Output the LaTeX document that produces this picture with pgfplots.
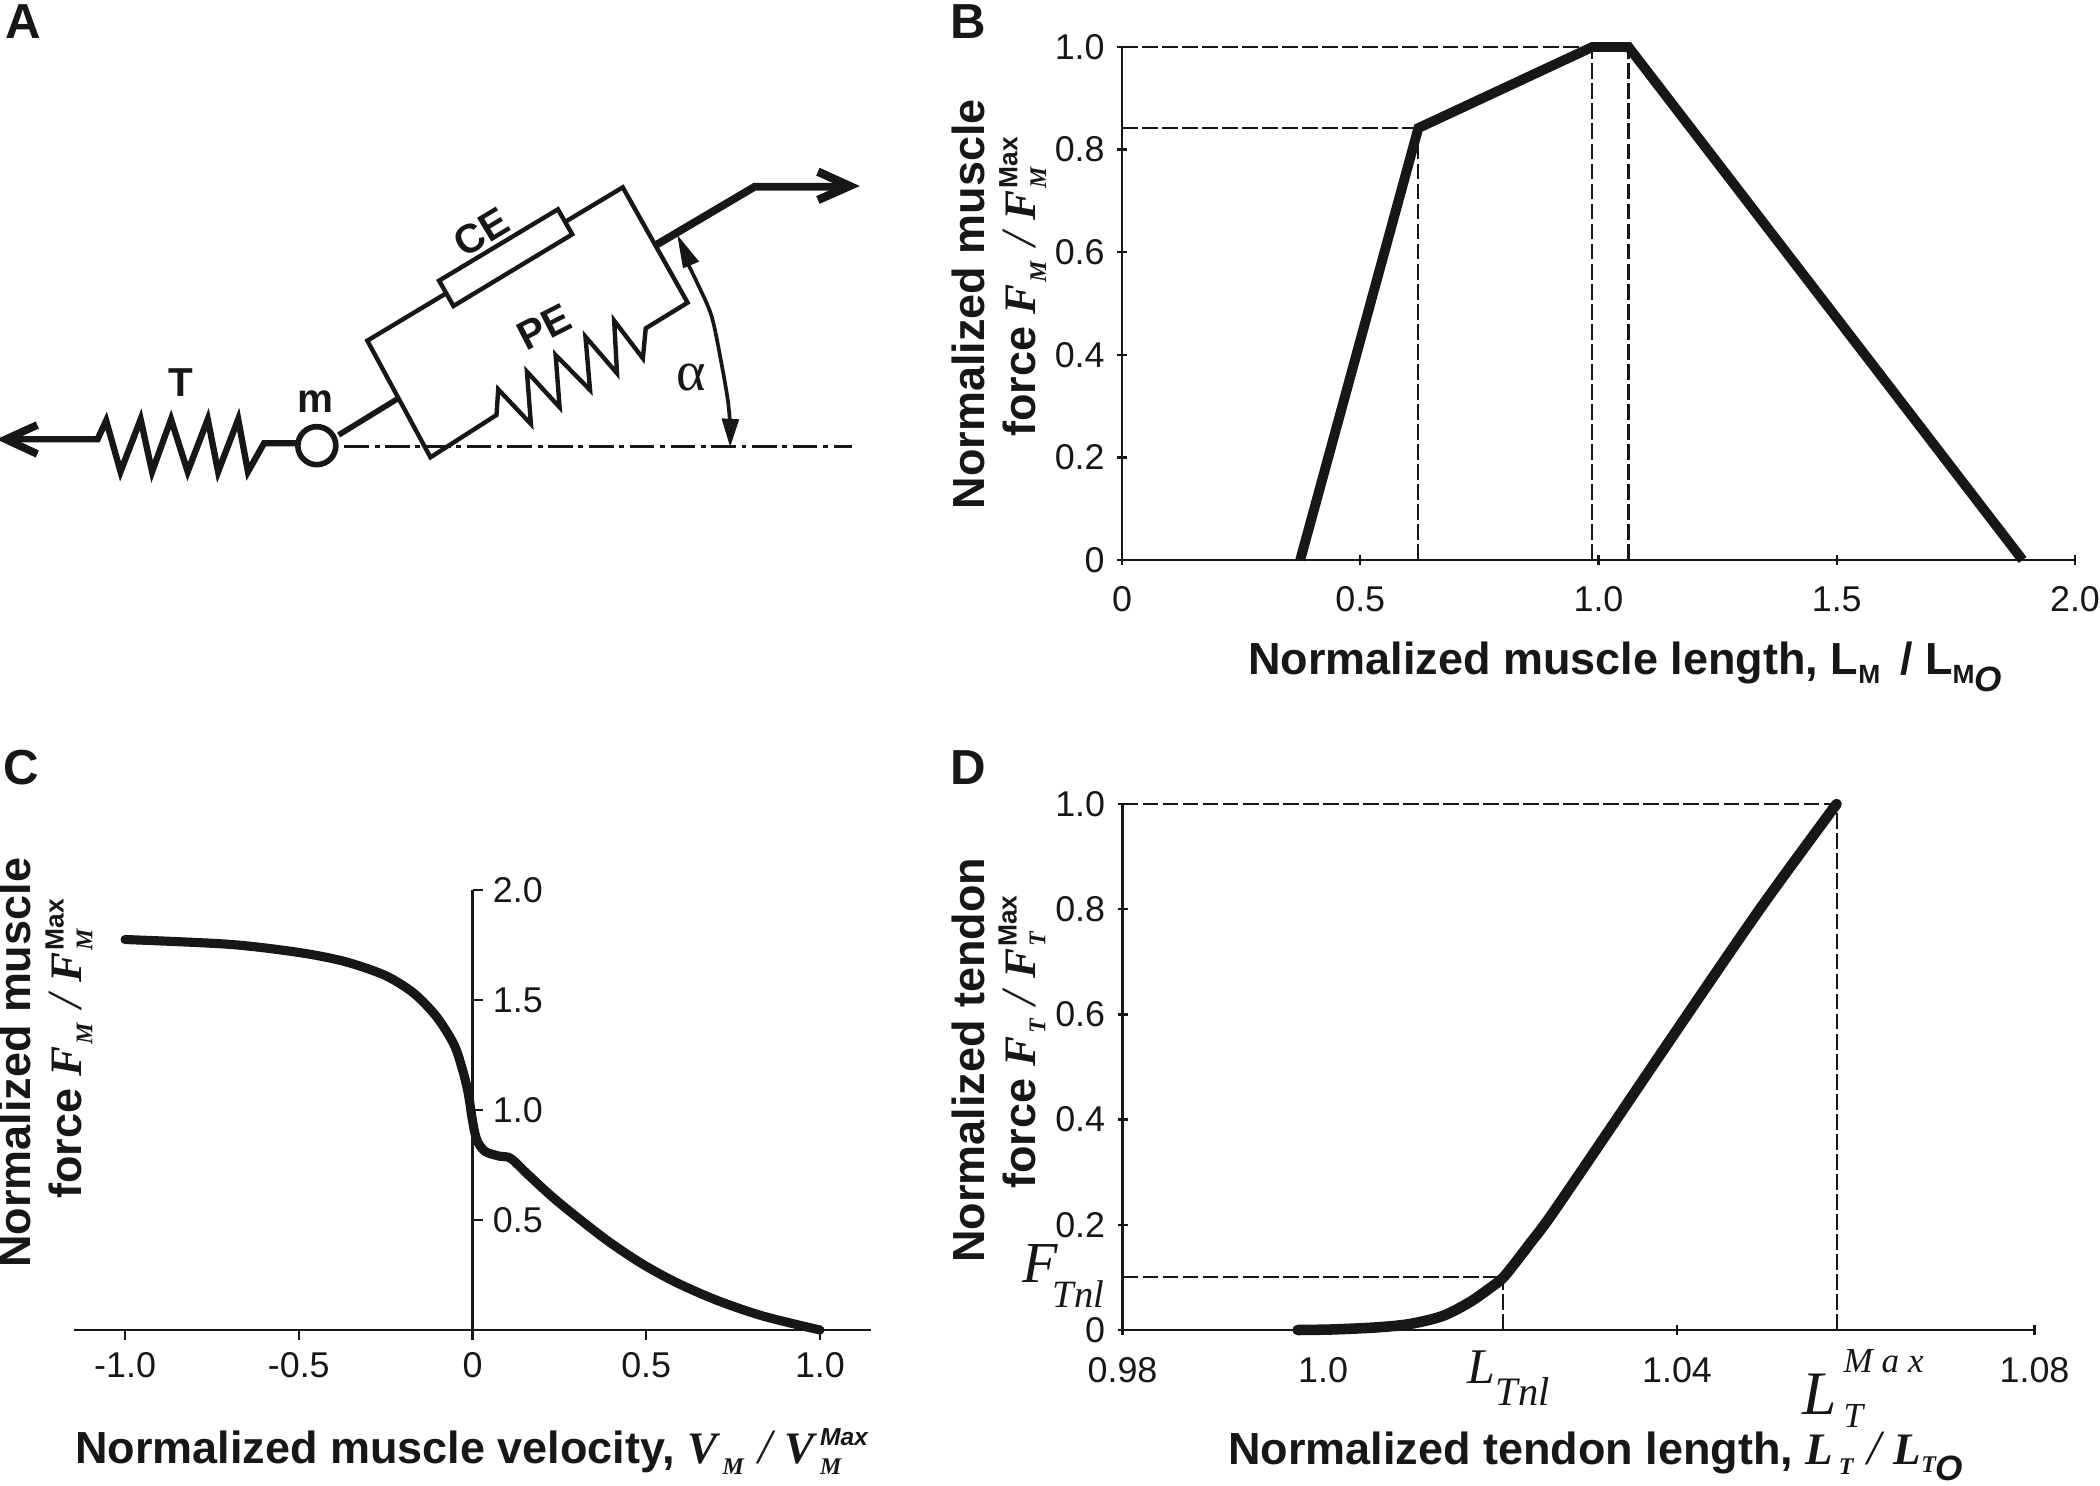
\documentclass[border=0pt]{standalone}
\usepackage{fontspec}
\setmainfont{Liberation Sans}
\newfontfamily\tms{Liberation Serif}
\usepackage{pgfplots}
\pgfplotsset{compat=1.18}

\definecolor{ink}{gray}{0.09}
\newcommand\lblfont{\fontsize{12.8}{14.5}\selectfont\bfseries}
% bold serif variable with sub and sup
\newcommand\fv[3]{$\hbox{\tms\bfseries\itshape #1\kern0.6pt}_{\hbox{\tms\bfseries\itshape\fontsize{6.8}{7}\selectfont #2}}^{\hbox{\bfseries\fontsize{7.5}{8}\selectfont #3}}$}
\newcommand\xv[3]{$\hbox{\tms\bfseries\itshape #1\kern1.6pt}_{\hbox{\tms\bfseries\itshape\fontsize{6.8}{7}\selectfont #2}}^{\hbox{\bfseries\itshape\fontsize{7}{8}\selectfont #3}}$}
\newcommand\slashv{{\tms\itshape\mdseries\fontsize{14}{15}\selectfont /}}
\newcommand\smallsub[1]{\raisebox{-0.35ex}{\fontsize{7.5}{8}\selectfont #1}}

\pgfplotsset{
  panel/.style={
    scale only axis, anchor=south west, clip=false,
    x axis line style={-}, y axis line style={-},
    axis line style={draw=ink, line width=0.65pt},
    tick style={draw=ink, line width=0.65pt},
    tickwidth=0.1cm,
    tick label style={font=\fontsize{10.2}{12}\selectfont, text=ink},
    xlabel style={font=\lblfont, text=ink, anchor=base, inner sep=0pt},
    ylabel style={font=\lblfont, text=ink, anchor=center, align=center, inner sep=0pt},
  },
  curve/.style={ink, line width=2.8pt},
  guide/.style={ink, line width=0.6pt, dash pattern=on 4.5pt off 1.2pt},
}

\begin{document}
\begin{tikzpicture}
\path[use as bounding box] (0,0) rectangle (21,14.86);

% panel letters
\foreach \l/\x/\y in {A/0.05/14.47, B/9.5/14.47, C/0.03/7.01, D/9.5/7.01}
  \node[anchor=base west, inner sep=0pt, text=ink, font=\fontsize{14}{16}\selectfont\bfseries] at (\x,\y) {\l};

% A: schematic, coordinates in a 1568 x 1500 grid
\begin{axis}[
  hide axis, scale only axis, anchor=south west, clip=false,
  at={(0cm,9.86cm)}, width=9cm, height=5cm,
  xmin=0, xmax=1568, ymin=0, ymax=1500, y dir=reverse,
]
  \addplot[ink, line width=1pt, dash pattern=on 7pt off 1.6pt on 1.4pt off 1.6pt]
    coordinates {(600,1340) (1485,1340)};
  \addplot[ink, line width=1.8pt, line join=miter]
    coordinates {(25,1318) (170,1318) (185,1262) (210,1415) (245,1258) (265,1415) (298,1258)
      (327,1415) (362,1258) (380,1415) (415,1258) (432,1415) (460,1330) (520,1330)};
  \addplot[ink, line width=2.2pt, line join=miter]
    coordinates {(65,1275) (10,1318) (65,1362)};
  \addplot[ink, line width=1.6pt] coordinates {(590,1305) (692,1197)};
  \addplot[only marks, mark=*, mark size=1.9mm, mark options={fill=white, draw=ink, line width=1.6pt}]
    coordinates {(552,1337)};
  \addplot[ink, line width=1.25pt, line join=miter]
    coordinates {(640,1022) (1085,562) (1198,908) (1125,985) (1120,1075) (1070,962) (1075,1120)
      (1020,1010) (1028,1170) (968,1065) (975,1222) (918,1115) (925,1272) (868,1168) (865,1245)
      (750,1372)} --cycle;
  \addplot[fill=white, draw=ink, line width=1.25pt]
    coordinates {(765,842) (972,628) (997,703) (790,918)} --cycle;
  \addplot[ink, line width=2.2pt, line join=miter]
    coordinates {(1143,735) (1315,560) (1470,560)};
  \addplot[ink, line width=2.4pt, line join=miter]
    coordinates {(1425,515) (1480,558) (1425,600)};
  \addplot[ink, line width=1.05pt, smooth]
    coordinates {(1195,780) (1215,850) (1240,950) (1258,1100) (1268,1200) (1272,1270)};
  \addplot[fill=ink, draw=none] coordinates {(1180,705) (1190,805) (1218,785)} --cycle;
  \addplot[fill=ink, draw=none] coordinates {(1272,1340) (1257,1255) (1288,1258)} --cycle;
  \begin{scope}[every node/.style={inner sep=0pt, text=ink, font=\fontsize{11.5}{13}\selectfont\bfseries}]
    \node at (axis cs:315,1148) {T};
    \node at (axis cs:550,1205) {m};
    \node[rotate=31] at (axis cs:838,695) {CE};
    \node[rotate=27] at (axis cs:948,980) {PE};
  \end{scope}
  \node[inner sep=0pt, text=ink, font=\fontsize{16}{18}\selectfont] at (axis cs:1205,1132) {\tms α};
\end{axis}

% B: force-length
\begin{axis}[
  axis lines=left,
  panel, at={(11.22cm,9.26cm)}, width=9.53cm, height=5.13cm,
  xmin=0, xmax=2, ymin=0, ymax=1,
  xtick={0,0.5,1,1.5,2}, xticklabels={0,0.5,1.0,1.5,2.0},
  ytick={0,0.2,0.4,0.6,0.8,1}, yticklabels={0,0.2,0.4,0.6,0.8,1.0},
  xticklabel style={yshift=-0.09cm},
  xlabel={Normalized muscle length, L\smallsub{M} \,/ L\smallsub{M}\raisebox{-0.7ex}{\fontsize{10}{11}\selectfont\textit{O}}},
  xlabel style={at={(axis description cs:0.528,-0.224)}},
  ylabel={Normalized muscle\\\hspace*{0.36cm}force \fv{F}{M}{} \slashv\ \fv{F}{M}{Max}},
  ylabel style={at={(axis description cs:-0.129,0.499)}},
]
  \addplot[guide] coordinates {(0,1) (0.987,1)};
  \addplot[guide] coordinates {(0,0.842) (0.622,0.842)};
  \addplot[guide] coordinates {(0.622,0) (0.622,0.842)};
  \addplot[guide] coordinates {(0.987,0) (0.987,1)};
  \addplot[guide] coordinates {(1.063,0) (1.063,1)};
  \addplot[curve, line join=miter] coordinates {(0.374,0) (0.622,0.842) (0.987,1) (1.063,1) (1.89,0)};
\end{axis}

% C: force-velocity
\begin{axis}[
  axis x line=bottom, axis y line=center,
  panel, at={(0.74cm,1.56cm)}, width=7.97cm, height=4.40cm,
  xmin=-1.147, xmax=1.147, ymin=0, ymax=2,
  xtick={-1,-0.5,0,0.5,1}, xticklabels={-1.0,-0.5,0,0.5,1.0},
  ytick={0.5,1,1.5,2}, yticklabels={0.5,1.0,1.5,2.0},
  xtick align=outside, ytick align=inside,
  hide obscured x ticks=false,
  yticklabel style={anchor=west, xshift=0.08cm},
  xlabel={Normalized muscle velocity, \xv{V}{M}{} \slashv\ \xv{V}{M}{Max}},
  xlabel style={at={(axis description cs:0.5,-0.3045)}},
  ylabel={Normalized muscle\\\hspace*{0.30cm}force \fv{F}{M}{} \slashv\ \fv{F}{M}{Max}},
  ylabel style={at={(axis description cs:-0.036,0.607)}, rotate=90},
]
  \addplot[curve, line width=2.6pt, smooth, line cap=round] coordinates {
    (-1.0,1.775) (-0.7,1.753) (-0.5,1.716) (-0.368,1.675) (-0.252,1.612) (-0.17,1.532)
    (-0.104,1.425) (-0.054,1.30) (-0.03,1.19) (-0.013,1.082) (0,0.952) (0.012,0.866)
    (0.036,0.812) (0.078,0.79) (0.11,0.78) (0.16,0.706) (0.226,0.61) (0.292,0.524)
    (0.391,0.403) (0.49,0.299) (0.589,0.214) (0.705,0.134) (0.837,0.063) (1.0,0)};
\end{axis}

% D: tendon force-length (tick positions follow the drawn, uneven axis)
\begin{axis}[
  axis lines=left,
  panel, at={(11.225cm,1.56cm)}, width=9.12cm, height=5.26cm,
  xmin=0.98, xmax=1.08, ymin=0, ymax=1,
  xtick={0.98,1.002,1.0408,1.08}, xticklabels={0.98,1.0,1.04,1.08},
  ytick={0,0.2,0.4,0.6,0.8,1}, yticklabels={0,0.2,0.4,0.6,0.8,1.0},
  xticklabel style={yshift=-0.1cm},
  xlabel={Normalized tendon length, \xv{L}{T}{} \slashv\ {\tms\bfseries\itshape L}\smallsub{\fontsize{6.8}{7}\selectfont\tms\bfseries\itshape T}\raisebox{-0.7ex}{\fontsize{10}{11}\selectfont\textit{O}}},
  xlabel style={at={(axis description cs:0.519,-0.2548)}},
  ylabel={Normalized tendon\\\hspace*{0.38cm}force \fv{F}{T}{} \slashv\ \fv{F}{T}{Max}},
  ylabel style={at={(axis description cs:-0.136,0.513)}},
]
  \addplot[guide] coordinates {(0.98,1) (1.0583,1)};
  \addplot[guide] coordinates {(0.98,0.1) (1.0217,0.1)};
  \addplot[guide] coordinates {(1.0217,0) (1.0217,0.1)};
  \addplot[guide] coordinates {(1.0583,0) (1.0583,1)};
  \addplot[curve, line width=3.0pt, smooth, line cap=round] coordinates {
    (0.9992,0) (1.003,0.001) (1.0079,0.005) (1.0115,0.0114) (1.0151,0.0266) (1.0181,0.0532)
    (1.0203,0.0798) (1.0217,0.0989) (1.0233,0.1331) (1.0247,0.165) (1.0268,0.213) (1.032,0.345)
    (1.0407,0.568) (1.05,0.803) (1.0583,1)};
  \begin{scope}[every node/.style={inner sep=0pt, text=ink}]
    \node[anchor=base west, font=\fontsize{16.5}{18}\selectfont\tms\itshape] at (axis description cs:-0.11,0.0894) {F};
    \node[anchor=base west, font=\fontsize{11}{12}\selectfont\tms\itshape] at (axis description cs:-0.0773,0.0437) {Tnl};
    \node[anchor=base west, font=\fontsize{14.2}{16}\selectfont\tms\itshape] at (axis description cs:0.3777,-0.1008) {L};
    \node[anchor=base west, font=\fontsize{11.5}{13}\selectfont\tms\itshape] at (axis description cs:0.4084,-0.1426) {Tnl};
    \node[anchor=base west, font=\fontsize{17.6}{19}\selectfont\tms\itshape] at (axis description cs:0.745,-0.1597) {L};
    \node[anchor=base west, font=\fontsize{10}{12}\selectfont\tms\itshape] at (axis description cs:0.79,-0.186) {T};
    \node[anchor=base west, font=\fontsize{10}{12}\selectfont\tms\itshape] at (axis description cs:0.79,-0.0817) {M\hspace{0.25em}a\hspace{0.25em}x};
  \end{scope}
\end{axis}
\end{tikzpicture}
\end{document}
